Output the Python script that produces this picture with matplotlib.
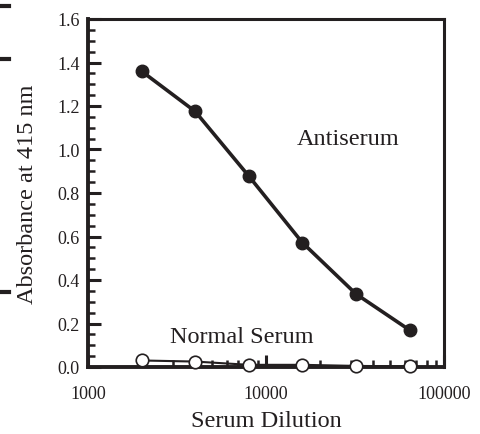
import numpy as np
import matplotlib
matplotlib.use('Agg')
import matplotlib.pyplot as plt
from matplotlib.lines import Line2D
from matplotlib.ticker import MultipleLocator, LogLocator, FixedLocator, FixedFormatter

plt.rcParams['font.family'] = ['Liberation Serif', 'DejaVu Serif']

# data
dilution = [2000, 4000, 8000, 16000, 32000, 64000]
antiserum = [1.36, 1.175, 0.878, 0.572, 0.336, 0.17]
normal_serum = [0.03, 0.025, 0.01, 0.01, 0.005, 0.003]
x_ticks = [1000, 10000, 100000]
x_tick_labels = ['1000', '10000', '100000']

ink = '#231f20'

fig = plt.figure(figsize=(4.8, 4.35), dpi=100)
ax = fig.add_axes([88/480, 1 - 368/435, (444-88)/480, (368-20)/435])

ax.plot(dilution, antiserum, '-o', color=ink, lw=2.6, ms=9,
        mfc=ink, mec=ink, zorder=4, clip_on=False)
ax.plot(dilution, normal_serum, '-o', color=ink, lw=1.5, ms=9,
        mfc='white', mec=ink, mew=1.2, zorder=5, clip_on=False)

ax.set_xscale('log')
ax.set_xlim(1000, 100000)
ax.set_ylim(0, 1.6)

ax.xaxis.set_major_locator(FixedLocator(x_ticks))
ax.xaxis.set_major_formatter(FixedFormatter(x_tick_labels))
ax.xaxis.set_minor_locator(LogLocator(base=10, subs=np.arange(2, 10)))
ax.xaxis.set_minor_formatter(plt.NullFormatter())
ax.yaxis.set_major_locator(MultipleLocator(0.2))
ax.yaxis.set_minor_locator(MultipleLocator(0.05))
ax.yaxis.set_major_formatter(plt.FuncFormatter(lambda v, p: '%.1f' % v))

ax.tick_params(which='both', direction='in', top=False, right=False,
               color=ink, labelsize=13, labelcolor=ink)
ax.tick_params(which='major', length=9, width=2.2)
ax.tick_params(which='minor', length=5, width=1.8)
ax.tick_params(axis='x', pad=13)
ax.tick_params(axis='y', pad=6)

for side in ['left', 'bottom']:
    ax.spines[side].set_linewidth(2.8)
for side in ['top', 'right']:
    ax.spines[side].set_linewidth(2.2)
for s in ax.spines.values():
    s.set_color(ink)

ax.set_xlabel('Serum Dilution', fontsize=17.5, color=ink, labelpad=6)
ax.set_ylabel('Absorbance at 415 nm', fontsize=17.5, color=ink, labelpad=14)

ax.text(14900, 1.05, 'Antiserum', fontsize=17.5, color=ink, va='center')
ax.text(2900, 0.14, 'Normal Serum', fontsize=17.5, color=ink, va='center')

# small edge marks at the left border of the picture
for yy in [6.5, 60, 293]:
    fig.add_artist(Line2D([0, 9/480], [1 - yy/435, 1 - yy/435],
                          color=ink, lw=3, transform=fig.transFigure))

fig.savefig('out.png', dpi=100)
